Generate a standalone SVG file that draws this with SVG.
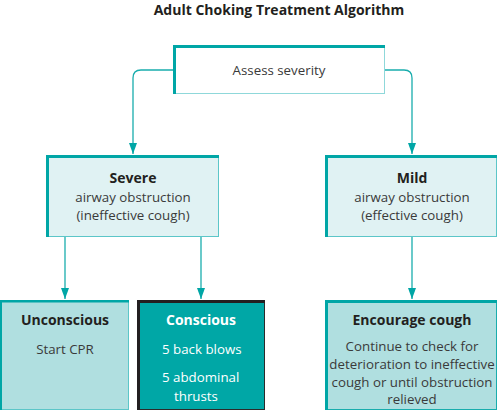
<svg xmlns="http://www.w3.org/2000/svg" width="498" height="410" viewBox="0 0 498 410">
<style>
text{font-family:"Open Sans","Noto Sans","Liberation Sans",sans-serif;font-size:13.3px;fill:#3a3a3a;text-anchor:middle}
.b{font-weight:bold;fill:#231f20;font-size:14px}
.w{fill:#ffffff}
.conn{fill:none;stroke:#19adad;stroke-width:1.3}
.thick{fill:#00a6a6}
</style>
<defs>
<marker id="ah" markerUnits="userSpaceOnUse" markerWidth="12" markerHeight="8" refX="11" refY="4" orient="auto">
<path d="M0,0 L11,4 L0,8 Z" fill="#00a6a6"/>
</marker>
</defs>
<text x="279" y="15" class="b">Adult Choking Treatment Algorithm</text>
<g id="connectors">
<path class="conn" d="M173,70 H141 Q133,70 133,78 V154" marker-end="url(#ah)"/>
<path class="conn" d="M385,70 H404 Q412,70 412,78 V154" marker-end="url(#ah)"/>
<path class="conn" d="M65,237 V299" marker-end="url(#ah)"/>
<path class="conn" d="M201,237 V299" marker-end="url(#ah)"/>
<path class="conn" d="M412,237 V299" marker-end="url(#ah)" stroke="#5cc6c8"/>
</g>
<g id="assess">
<rect x="173.5" y="45.5" width="211" height="48" fill="#ffffff" stroke="#8fd8da"/>
<rect x="173" y="45" width="212" height="3" class="thick"/>
<rect x="173" y="45" width="3" height="49" class="thick"/>
<text x="279" y="75">Assess severity</text>
</g>
<g id="severe">
<rect x="46.5" y="155.5" width="172" height="81" fill="#e0f2f3" stroke="#5cc6c8"/>
<rect x="46" y="155" width="173" height="3" class="thick"/>
<rect x="46" y="155" width="3" height="82" class="thick"/>
<text x="133" y="183" class="b">Severe</text>
<text x="133" y="202">airway obstruction</text>
<text x="133" y="220">(ineffective cough)</text>
</g>
<g id="mild">
<rect x="325.5" y="155.5" width="171" height="81" fill="#e0f2f3" stroke="#5cc6c8"/>
<rect x="325" y="155" width="172" height="3" class="thick"/>
<rect x="325" y="155" width="3" height="82" class="thick"/>
<text x="412" y="183" class="b">Mild</text>
<text x="412" y="202">airway obstruction</text>
<text x="412" y="220">(effective cough)</text>
</g>
<g id="unconscious">
<rect x="0.5" y="300.5" width="128" height="109" fill="#b0dfe0" stroke="#5cc6c8"/>
<rect x="0" y="300" width="129" height="2.5" class="thick"/>
<rect x="0" y="300" width="2" height="110" class="thick"/>
<text x="65" y="325" class="b">Unconscious</text>
<text x="65" y="354">Start CPR</text>
</g>
<g id="conscious">
<rect x="137.5" y="300.5" width="127" height="109" fill="#00a7a6" stroke="#2b2b2b"/>
<rect x="137" y="300" width="128" height="3" fill="#231f20"/>
<rect x="137" y="300" width="3" height="110" fill="#231f20"/>
<text x="201" y="325" class="b w">Conscious</text>
<text x="162" y="354" class="w" style="text-anchor:start">5 back blows</text>
<text x="162" y="382" class="w" style="text-anchor:start">5 abdominal</text>
<text x="174" y="401" class="w" style="text-anchor:start">thrusts</text>
</g>
<g id="encourage">
<rect x="325.5" y="300.5" width="171" height="109" fill="#b0dfe0" stroke="#19adad"/>
<rect x="325" y="300" width="172" height="3" class="thick"/>
<rect x="325" y="300" width="3" height="110" class="thick"/>
<text x="412" y="325" class="b">Encourage cough</text>
<text x="412" y="351">Continue to check for</text>
<text x="412" y="369">deterioration to ineffective</text>
<text x="412" y="387">cough or until obstruction</text>
<text x="412" y="404">relieved</text>
</g>
</svg>
